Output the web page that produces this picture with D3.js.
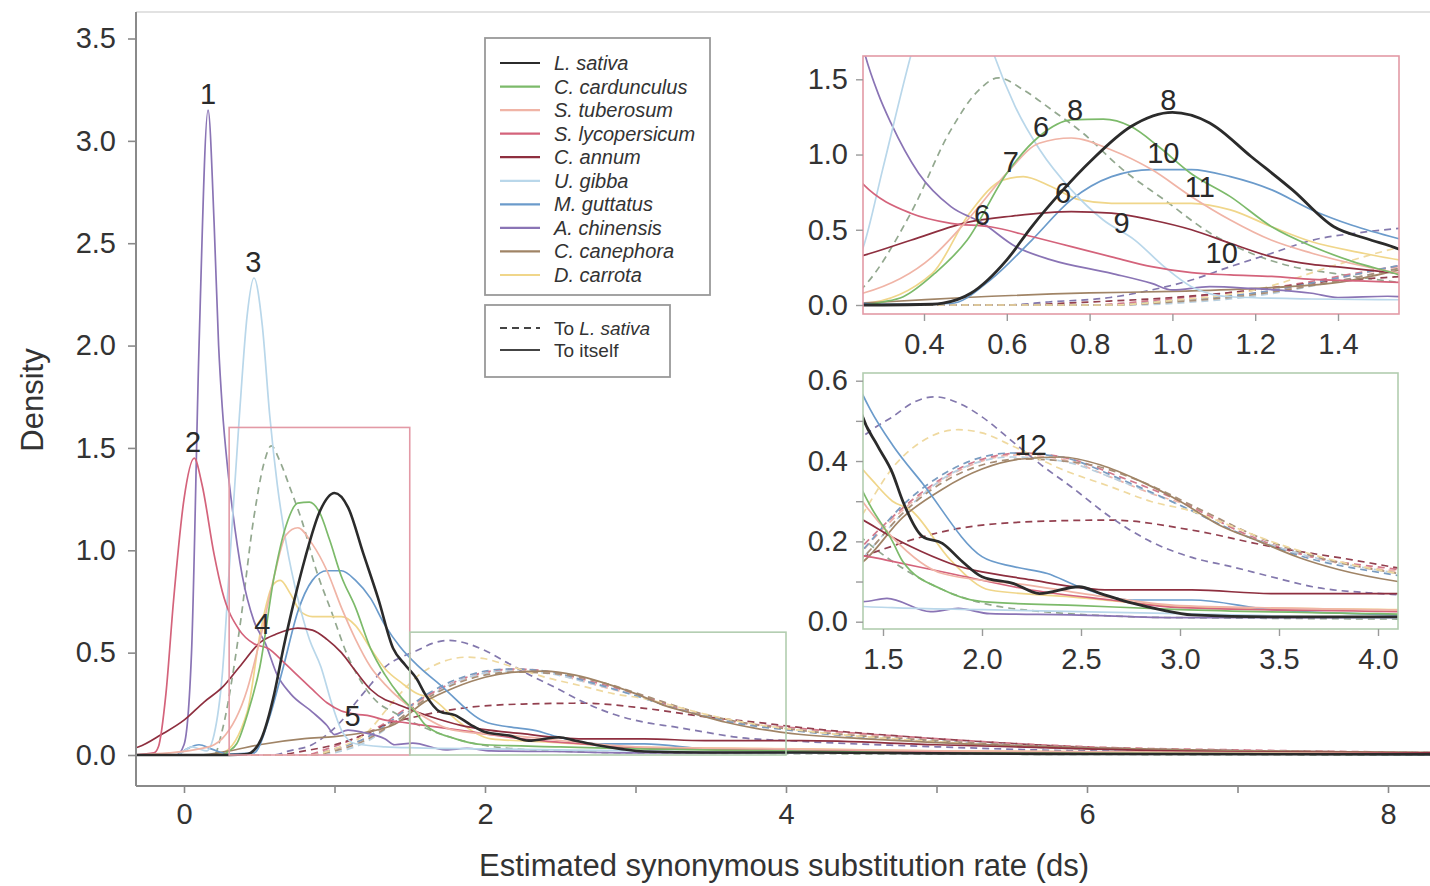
<!DOCTYPE html>
<html lang="en">
<head>
<meta charset="UTF-8">
<script src="https://d3js.org/d3.v7.min.js"></script>
<title>Ks density</title>
<style>
  body { margin: 0; background: #fff; font-family: "Liberation Sans", Arial, sans-serif; }
  svg { display: block; }
</style>
</head>
<body>
<svg id="chart" width="1430" height="886"></svg>
<script>
// ---- data ----
const species = ["L. sativa", "C. cardunculus", "S. tuberosum", "S. lycopersicum", "C. annum",
                 "U. gibba", "M. guttatus", "A. chinensis", "C. canephora", "D. carrota"];
const speciesColors = ["#2b2b2b", "#7cba6a", "#f0b4a6", "#d4637b", "#8e2f3f",
                       "#b9d7ea", "#6b9bcb", "#8a74b5", "#a08466", "#f0d68a"];
// dashed copies look a little greyer
const dashColors = ["#2b2b2b", "#93a88f", "#eeb4aa", "#d27a8c", "#93404f",
                    "#b9d0e0", "#7a9cc0", "#8378ad", "#a88f78", "#efd9a0"];

// paralogs ("to itself"), [ds, density]
const lsatSelf = [[-0.35,0],[0.3,0],[0.42,0.005],[0.446,0.012],[0.513,0.078],[0.6,0.3],[0.66,0.52],[0.736,0.765],[0.804,0.96],[0.9,1.186],[1.0,1.28],[1.09,1.21],[1.19,0.987],[1.29,0.765],[1.39,0.52],[1.47,0.44],[1.548,0.37],[1.6,0.3],[1.7,0.212],[1.8,0.195],[1.9,0.15],[2.0,0.112],[2.16,0.095],[2.29,0.07],[2.49,0.087],[2.6,0.07],[2.76,0.046],[2.9,0.03],[3.06,0.017],[3.46,0.012],[4.1,0.012],[5,0.008],[6,0.005],[8.6,0.003]];
const ccarSelf = [[-0.35,0],[0.25,0],[0.3,0.02],[0.35,0.055],[0.426,0.21],[0.504,0.43],[0.6,0.876],[0.678,1.12],[0.756,1.23],[0.833,1.235],[0.9,1.186],[0.968,1.05],[1.044,0.876],[1.14,0.72],[1.24,0.52],[1.337,0.39],[1.434,0.29],[1.548,0.2],[1.6,0.15],[1.8,0.08],[2.0,0.05],[2.5,0.04],[3,0.03],[4,0.02],[5,0.01],[8.6,0.005]];
const stubSelf = [[-0.35,0],[-0.1,0.01],[0.1,0.03],[0.2,0.05],[0.254,0.08],[0.42,0.32],[0.513,0.59],[0.6,0.876],[0.678,1.075],[0.756,1.11],[0.853,1.03],[0.95,0.9],[1.046,0.72],[1.14,0.565],[1.24,0.43],[1.337,0.344],[1.548,0.21],[1.8,0.12],[2.25,0.09],[2.65,0.06],[3,0.04],[4,0.03],[5,0.02],[8.6,0.005]];
const slycSelf = [[-0.35,0],[-0.2,0.01],[-0.17,0.04],[-0.12,0.3],[-0.07,0.75],[0.0,1.25],[0.068,1.45],[0.12,1.32],[0.2,0.98],[0.254,0.8],[0.368,0.61],[0.465,0.543],[0.56,0.52],[0.66,0.455],[0.756,0.388],[0.853,0.32],[0.95,0.255],[1.046,0.215],[1.14,0.2],[1.24,0.19],[1.337,0.17],[1.45,0.16],[1.548,0.15],[1.84,0.12],[2.25,0.079],[2.65,0.054],[3.0,0.035],[4.1,0.025],[5,0.015],[8.6,0.005]];
const cannSelf = [[-0.35,0.03],[-0.3,0.04],[-0.15,0.1],[0,0.17],[0.135,0.26],[0.254,0.33],[0.368,0.43],[0.513,0.554],[0.61,0.59],[0.756,0.62],[0.853,0.61],[0.95,0.565],[1.046,0.5],[1.14,0.41],[1.24,0.32],[1.337,0.27],[1.4,0.253],[1.548,0.21],[1.64,0.187],[1.84,0.145],[2.25,0.104],[2.65,0.079],[3.06,0.079],[3.46,0.07],[4.1,0.07],[5,0.05],[6,0.03],[7,0.015],[8.6,0.01]];
const ugibSelf = [[-0.35,0],[-0.05,0],[0.0,0.02],[0.05,0.04],[0.1,0.03],[0.15,0.02],[0.2,0.1],[0.254,0.39],[0.3,0.9],[0.368,1.656],[0.42,2.15],[0.465,2.33],[0.52,2.1],[0.57,1.656],[0.62,1.32],[0.68,1.03],[0.756,0.765],[0.833,0.565],[0.91,0.43],[0.98,0.255],[1.046,0.122],[1.14,0.055],[1.337,0.04],[1.548,0.035],[2,0.03],[3,0.02],[4,0.01],[8.6,0.003]];
const mgutSelf = [[-0.35,0],[-0.05,0],[0.02,0.03],[0.1,0.05],[0.18,0.03],[0.3,0.005],[0.465,0.01],[0.56,0.166],[0.66,0.43],[0.756,0.7],[0.853,0.853],[0.95,0.9],[1.046,0.9],[1.14,0.853],[1.24,0.765],[1.337,0.632],[1.434,0.53],[1.548,0.44],[1.7,0.344],[2.0,0.162],[2.16,0.137],[2.33,0.12],[2.49,0.087],[2.76,0.054],[3.06,0.054],[3.46,0.03],[4.1,0.017],[5,0.01],[8.6,0.003]];
const achiSelf = [[-0.35,0],[-0.05,0],[0.0,0.05],[0.05,0.5],[0.1,2.0],[0.16,3.15],[0.2,2.6],[0.23,2.0],[0.254,1.7],[0.29,1.4],[0.32,1.21],[0.387,0.876],[0.465,0.654],[0.542,0.543],[0.62,0.39],[0.707,0.3],[0.853,0.21],[0.95,0.144],[1.0,0.1],[1.09,0.122],[1.19,0.11],[1.337,0.078],[1.4,0.05],[1.52,0.058],[1.74,0.025],[1.88,0.033],[2.04,0.02],[2.45,0.017],[3,0.01],[4,0.01],[8.6,0.003]];
const ccanSelf = [[-0.35,0],[0.1,0],[0.3,0.02],[0.5,0.05],[0.8,0.08],[1.0,0.09],[1.2,0.11],[1.4,0.15],[1.6,0.26],[1.8,0.33],[2.0,0.38],[2.2,0.405],[2.4,0.41],[2.6,0.39],[2.8,0.35],[3.0,0.3],[3.2,0.24],[3.4,0.2],[3.6,0.16],[3.8,0.13],[4.1,0.1],[4.5,0.08],[5,0.06],[6,0.035],[7,0.02],[8.6,0.01]];
const dcarSelf = [[-0.35,0],[0.15,0],[0.254,0.01],[0.42,0.21],[0.51,0.61],[0.59,0.83],[0.64,0.853],[0.707,0.787],[0.775,0.7],[0.853,0.676],[0.95,0.676],[1.046,0.676],[1.14,0.632],[1.24,0.52],[1.337,0.42],[1.45,0.35],[1.548,0.3],[1.64,0.278],[1.84,0.154],[2.04,0.079],[2.45,0.062],[3.06,0.037],[4.1,0.03],[5,0.02],[8.6,0.005]];

// orthologs with L. sativa ("to L. sativa")
const ccarTo = [[-0.35,0],[0.2,0],[0.254,0.12],[0.368,0.61],[0.465,1.164],[0.533,1.43],[0.58,1.51],[0.64,1.43],[0.707,1.3],[0.785,1.14],[0.88,0.9],[0.98,0.7],[1.09,0.48],[1.19,0.344],[1.29,0.255],[1.39,0.21],[1.548,0.15],[1.8,0.08],[2.2,0.03],[3,0.01],[8.6,0]];
const stubTo = [[-0.35,0],[0.8,0],[0.95,0.02],[1.1,0.05],[1.3,0.12],[1.44,0.2],[1.64,0.295],[1.9,0.38],[2.17,0.415],[2.4,0.405],[2.65,0.36],[2.85,0.32],[3.06,0.286],[3.36,0.21],[3.67,0.16],[4.1,0.125],[5,0.075],[6,0.04],[7,0.02],[8.6,0.01]];
const slycTo = [[-0.35,0],[0.8,0],[0.95,0.03],[1.1,0.07],[1.3,0.14],[1.44,0.21],[1.64,0.3],[1.9,0.385],[2.2,0.42],[2.45,0.405],[2.7,0.36],[3.0,0.3],[3.3,0.225],[3.6,0.17],[4.1,0.13],[5,0.08],[6,0.04],[7,0.025],[8.6,0.01]];
const cannTo = [[-0.35,0],[0.6,0],[0.8,0.02],[1.0,0.05],[1.2,0.1],[1.35,0.15],[1.54,0.187],[1.84,0.228],[2.25,0.249],[2.65,0.253],[3.06,0.228],[3.46,0.187],[3.87,0.154],[4.1,0.134],[4.9,0.085],[6.06,0.036],[7.2,0.02],[8.6,0.01]];
const ugibTo = [[-0.35,0],[0.9,0],[1.05,0.02],[1.2,0.06],[1.4,0.16],[1.6,0.27],[1.85,0.37],[2.15,0.41],[2.4,0.4],[2.7,0.35],[3.0,0.29],[3.3,0.22],[3.6,0.17],[4.1,0.12],[5,0.07],[6,0.035],[8.6,0.01]];
const mgutTo = [[-0.35,0],[0.85,0],[1.0,0.03],[1.2,0.08],[1.4,0.18],[1.6,0.29],[1.85,0.38],[2.15,0.42],[2.4,0.41],[2.7,0.355],[3.0,0.29],[3.3,0.22],[3.6,0.165],[4.1,0.115],[5,0.065],[6,0.03],[8.6,0.01]];
const achiTo = [[-0.35,0],[0.6,0],[0.7,0.02],[0.85,0.05],[0.95,0.1],[1.046,0.166],[1.14,0.255],[1.24,0.344],[1.337,0.43],[1.45,0.48],[1.548,0.51],[1.65,0.545],[1.76,0.56],[1.9,0.54],[2.0,0.51],[2.165,0.444],[2.3,0.39],[2.45,0.336],[2.65,0.26],[2.85,0.2],[3.06,0.16],[3.26,0.137],[3.46,0.112],[3.67,0.087],[4.07,0.068],[5,0.04],[6,0.02],[8.6,0.008]];
const ccanTo = [[-0.35,0],[0.85,0],[1.0,0.02],[1.2,0.07],[1.4,0.16],[1.6,0.27],[1.85,0.36],[2.2,0.405],[2.5,0.395],[2.8,0.35],[3.1,0.28],[3.4,0.21],[3.7,0.16],[4.1,0.12],[5,0.07],[6,0.035],[8.6,0.01]];
const dcarTo = [[-0.35,0],[0.85,0],[1.0,0.03],[1.2,0.1],[1.4,0.27],[1.56,0.39],[1.7,0.45],[1.88,0.478],[2.0,0.47],[2.16,0.436],[2.4,0.38],[2.65,0.336],[2.85,0.3],[3.06,0.275],[3.25,0.24],[3.46,0.2],[3.8,0.15],[4.1,0.12],[5,0.065],[6,0.03],[8.6,0.01]];

// peak numbers
const mainLabels = [["1",0.16,3.23],["2",0.06,1.53],["3",0.46,2.41],["4",0.52,0.64],["5",1.12,0.19]];
const inset1Labels = [["8",0.765,1.297],["8",0.99,1.36],["6",0.683,1.18],["7",0.61,0.953],["10",0.978,1.009],
                      ["11",1.066,0.787],["6",0.736,0.743],["6",0.54,0.6],["9",0.877,0.543],["10",1.119,0.348]];
const inset2Labels = [["12",2.246,0.44]];

const mainXTicks = [0, 1, 2, 3, 4, 5, 6, 7, 8];
const mainYTicks = [0, 0.5, 1, 1.5, 2, 2.5, 3, 3.5];
const inset1XTicks = [0.4, 0.6, 0.8, 1.0, 1.2, 1.4];
const inset1YTicks = [0, 0.5, 1.0, 1.5];
const inset2XTicks = [1.5, 2.0, 2.5, 3.0, 3.5, 4.0];
const inset2YTicks = [0, 0.1, 0.2, 0.3, 0.4, 0.5, 0.6];

// ---- build series ----
const selfData = [lsatSelf, ccarSelf, stubSelf, slycSelf, cannSelf, ugibSelf, mgutSelf, achiSelf, ccanSelf, dcarSelf];
const toData = [null, ccarTo, stubTo, slycTo, cannTo, ugibTo, mgutTo, achiTo, ccanTo, dcarTo];
const series = [];
toData.forEach((d, i) => { if (d) series.push({ pts: d, color: dashColors[i], dashed: true, idx: i }); });
for (let i = selfData.length - 1; i >= 0; i--) series.push({ pts: selfData[i], color: speciesColors[i], dashed: false, idx: i });

const svg = d3.select("#chart");
const FONT = 29;
const TXT = "#333";

function panel(opts) {
  const { sx, sy, box, id, lw, lwBlack } = opts;
  svg.append("clipPath").attr("id", id)
    .append("rect").attr("x", box.x0).attr("y", box.y0)
    .attr("width", box.x1 - box.x0).attr("height", box.y1 - box.y0);
  const line = d3.line().x(d => sx(d[0])).y(d => sy(d[1])).curve(d3.curveMonotoneX);
  const g = svg.append("g").attr("clip-path", `url(#${id})`);
  g.selectAll("path").data(series).join("path")
    .attr("d", d => line(d.pts))
    .attr("fill", "none")
    .attr("stroke", d => d.color)
    .attr("stroke-width", d => d.idx === 0 ? lwBlack : lw)
    .attr("stroke-dasharray", d => d.dashed ? "7,5" : null)
    .attr("stroke-linejoin", "round");
  return g;
}

function numLabels(sx, sy, labels) {
  svg.append("g").selectAll("text").data(labels).join("text")
    .attr("x", d => sx(d[1])).attr("y", d => sy(d[2]))
    .attr("text-anchor", "middle").attr("dominant-baseline", "central")
    .attr("font-size", FONT).attr("fill", "#2a2a2a")
    .text(d => d[0]);
}

// ---- main panel ----
const x = d3.scaleLinear().domain([0, 8]).range([184, 1388]);
const y = d3.scaleLinear().domain([0, 3.5]).range([755, 38.5]);
const mainBox = { x0: 136, x1: 1430, y0: 12, y1: 786 };

svg.append("line").attr("x1", mainBox.x0).attr("x2", mainBox.x1).attr("y1", mainBox.y0).attr("y2", mainBox.y0)
  .attr("stroke", "#e2e2e2").attr("stroke-width", 2);

panel({ sx: x, sy: y, box: mainBox, id: "clipMain", lw: 1.7, lwBlack: 2.6 });

// zoom rectangles
svg.append("rect").attr("x", x(0.3)).attr("y", y(1.6))
  .attr("width", x(1.5) - x(0.3)).attr("height", y(0) - y(1.6))
  .attr("fill", "none").attr("stroke", "#e39aa6").attr("stroke-width", 1.6);
svg.append("rect").attr("x", x(1.5)).attr("y", y(0.6))
  .attr("width", x(4.0) - x(1.5)).attr("height", y(0) - y(0.6))
  .attr("fill", "none").attr("stroke", "#b2cdb0").attr("stroke-width", 1.6);

// axes
svg.append("line").attr("x1", mainBox.x0).attr("x2", mainBox.x0).attr("y1", mainBox.y0).attr("y2", mainBox.y1)
  .attr("stroke", "#8a8a8a").attr("stroke-width", 2);
svg.append("line").attr("x1", mainBox.x0).attr("x2", mainBox.x1).attr("y1", mainBox.y1).attr("y2", mainBox.y1)
  .attr("stroke", "#8a8a8a").attr("stroke-width", 2);

const xAxis = d3.axisBottom(x).tickValues(mainXTicks).tickSize(7).tickPadding(10)
  .tickFormat(d => d % 2 === 0 ? d : "");
const gx = svg.append("g").attr("transform", `translate(0,${mainBox.y1})`).call(xAxis);
const yAxis = d3.axisLeft(y).tickValues(mainYTicks).tickSize(8).tickPadding(12).tickFormat(d3.format(".1f"));
const gy = svg.append("g").attr("transform", `translate(${mainBox.x0},0)`).call(yAxis);
[gx, gy].forEach(g => {
  g.select(".domain").remove();
  g.selectAll(".tick line").attr("stroke", "#8a8a8a").attr("stroke-width", 1.6);
  g.selectAll(".tick text").attr("font-size", FONT).attr("fill", TXT).attr("font-family", "Liberation Sans, Arial, sans-serif");
});

numLabels(x, y, mainLabels);

svg.append("text").attr("x", 784).attr("y", 865).attr("text-anchor", "middle")
  .attr("dominant-baseline", "central").attr("font-size", 31).attr("fill", TXT)
  .text("Estimated synonymous substitution rate (ds)");
svg.append("text").attr("transform", "translate(32,400) rotate(-90)").attr("text-anchor", "middle")
  .attr("dominant-baseline", "central").attr("font-size", 31).attr("fill", TXT)
  .text("Density");

// ---- insets ----
function inset(o) {
  svg.append("rect").attr("x", o.box.x0).attr("y", o.box.y0)
    .attr("width", o.box.x1 - o.box.x0).attr("height", o.box.y1 - o.box.y0).attr("fill", "#fff");
  panel({ sx: o.sx, sy: o.sy, box: o.box, id: o.id, lw: 1.7, lwBlack: 2.8 });
  svg.append("rect").attr("x", o.box.x0).attr("y", o.box.y0)
    .attr("width", o.box.x1 - o.box.x0).attr("height", o.box.y1 - o.box.y0)
    .attr("fill", "none").attr("stroke", o.border).attr("stroke-width", 1.6);
  const ax = svg.append("g").attr("transform", `translate(0,${o.box.y1})`)
    .call(d3.axisBottom(o.sx).tickValues(o.xt).tickSize(7).tickPadding(12).tickFormat(d3.format(".1f")));
  const ay = svg.append("g").attr("transform", `translate(${o.box.x0},0)`)
    .call(d3.axisLeft(o.sy).tickValues(o.yt).tickSize(7).tickPadding(8)
      .tickFormat(d => o.ylab.includes(d) ? d3.format(".1f")(d) : ""));
  [ax, ay].forEach(g => {
    g.select(".domain").remove();
    g.selectAll(".tick line").attr("stroke", "#9a9a9a").attr("stroke-width", 1.4);
    g.selectAll(".tick text").attr("font-size", FONT).attr("fill", TXT).attr("font-family", "Liberation Sans, Arial, sans-serif");
  });
  numLabels(o.sx, o.sy, o.labels);
}

inset({
  sx: d3.scaleLinear().domain([0.4, 1.4]).range([924, 1338]),
  sy: d3.scaleLinear().domain([0, 1.5]).range([305, 79.3]),
  box: { x0: 863, x1: 1399, y0: 56, y1: 314 }, id: "clipIn1", border: "#e39aa6",
  xt: inset1XTicks, yt: inset1YTicks, ylab: inset1YTicks, labels: inset1Labels
});
inset({
  sx: d3.scaleLinear().domain([1.5, 4.0]).range([883, 1378]),
  sy: d3.scaleLinear().domain([0, 0.6]).range([621.7, 380.7]),
  box: { x0: 863, x1: 1398, y0: 373, y1: 629 }, id: "clipIn2", border: "#b2cdb0",
  xt: inset2XTicks, yt: inset2YTicks, ylab: [0, 0.2, 0.4, 0.6], labels: inset2Labels
});

// ---- legends ----
const leg = svg.append("g");
leg.append("rect").attr("x", 485).attr("y", 38).attr("width", 225).attr("height", 257)
  .attr("fill", "#fff").attr("stroke", "#999").attr("stroke-width", 1.8);
const rowY = d3.scalePoint().domain(species).range([63, 275]);
species.forEach((s, i) => {
  leg.append("line").attr("x1", 500).attr("x2", 540).attr("y1", rowY(s)).attr("y2", rowY(s))
    .attr("stroke", speciesColors[i]).attr("stroke-width", 2.2);
  leg.append("text").attr("x", 554).attr("y", rowY(s)).attr("dominant-baseline", "central")
    .attr("font-size", 20).attr("font-style", "italic").attr("fill", "#333").text(s);
});
leg.append("rect").attr("x", 485).attr("y", 305).attr("width", 185).attr("height", 72)
  .attr("fill", "#fff").attr("stroke", "#999").attr("stroke-width", 1.8);
const kinds = [{ dash: "7,5", label: ["To ", "L. sativa"] }, { dash: null, label: ["To itself", ""] }];
kinds.forEach((k, i) => {
  const yy = 328 + i * 22;
  leg.append("line").attr("x1", 500).attr("x2", 540).attr("y1", yy).attr("y2", yy)
    .attr("stroke", "#444").attr("stroke-width", 2.2).attr("stroke-dasharray", k.dash);
  const t = leg.append("text").attr("x", 554).attr("y", yy).attr("dominant-baseline", "central")
    .attr("font-size", 19).attr("fill", "#333");
  t.append("tspan").text(k.label[0]);
  if (k.label[1]) t.append("tspan").attr("font-style", "italic").text(k.label[1]);
});
</script>
</body>
</html>
